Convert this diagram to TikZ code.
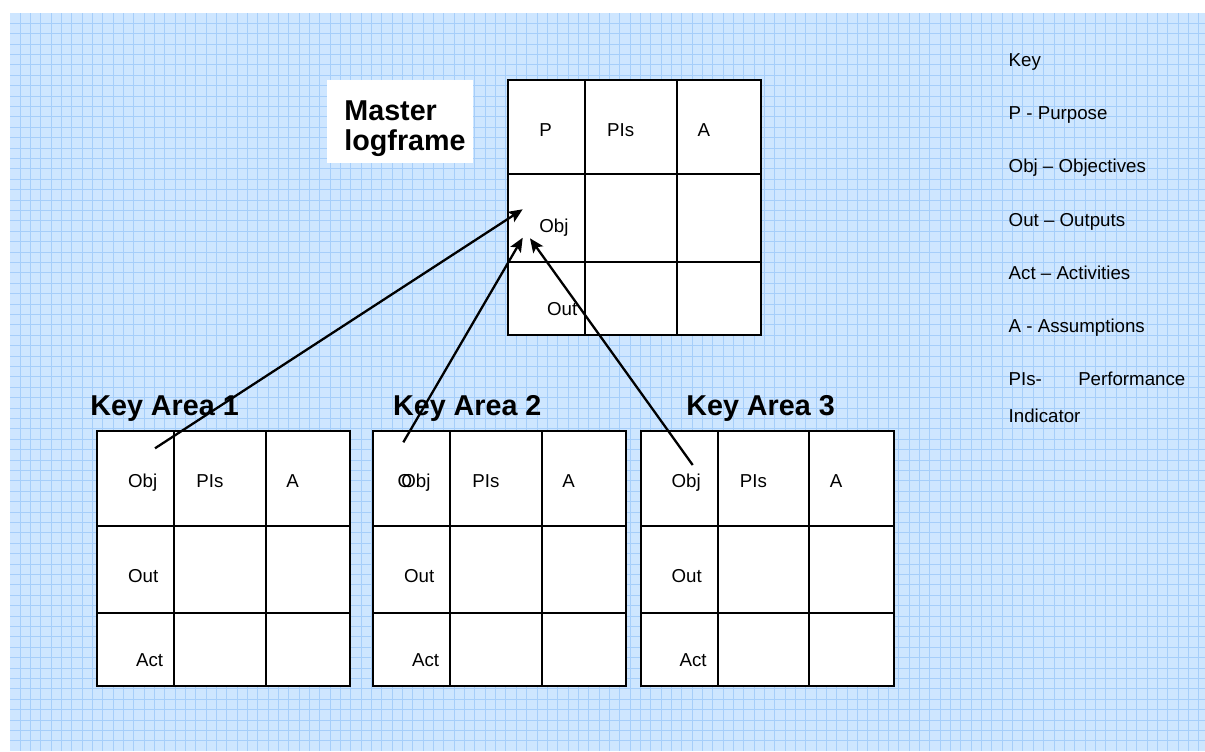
\documentclass[tikz,border=0pt]{standalone}
\usepackage{fontspec}
\setmainfont{Liberation Sans}
\usetikzlibrary{arrows.meta}
\definecolor{paperblue}{RGB}{206,230,255}
\definecolor{paperline}{RGB}{166,206,250}

\begin{document}
\begin{tikzpicture}[x=0.5pt,y=-0.5pt,
    cell/.style={font=\fontsize{9.35}{11}\selectfont,inner sep=0pt,anchor=base west},
    areatitle/.style={font=\bfseries\fontsize{14.35}{16}\selectfont,inner sep=0pt,anchor=base west},
    frameline/.style={line width=0.9pt,black},
    link/.style={line width=1.15pt,black,-{Stealth[length=7pt,width=6pt,inset=1.5pt]}}]
    \useasboundingbox (0,0) rectangle (1205,751);

    % squared paper
    \fill[paperblue] (10,13) rectangle (1205,751);
    \foreach \i in {0,...,114}
      \draw[paperline,line width=0.5pt] ({20+10.34*\i},13) -- ({20+10.34*\i},751);
    \foreach \j in {0,...,69}
      \draw[paperline,line width=0.5pt] (10,{23.3+10.4*\j}) -- (1205,{23.3+10.4*\j});

    % master logframe
    \fill[white] (327.3,80) rectangle (472.7,163);
    \node[areatitle] (mastertitle) at (344,120) {Master};
    \node[areatitle] (mastertitleb) at (344,150.7) {logframe};
    \draw[frameline,fill=white] (508.3,80) rectangle (761,335);
    \draw[frameline] (585,80) -- (585,335) (676.7,80) -- (676.7,335)
                     (508.3,174) -- (761,174) (508.3,262) -- (761,262);
    \node[cell] (mP) at (539,136) {P};
    \node[cell] (mPIs) at (606.7,136) {PIs};
    \node[cell] (mA) at (697.3,136) {A};
    \node[cell] (mObj) at (539,232.3) {Obj};
    \node[cell] (mOut) at (546.7,315.7) {Out};

    % key areas
    \foreach \dx/\n in {0/1,276/2,543.5/3} {
      \draw[frameline,fill=white] (97.3+\dx,431.3) rectangle (350.3+\dx,686);
      \draw[frameline] (174.3+\dx,431.3) -- (174.3+\dx,686) (265.7+\dx,431.3) -- (265.7+\dx,686)
                       (97.3+\dx,525.7) -- (350.3+\dx,525.7) (97.3+\dx,613.3) -- (350.3+\dx,613.3);
      \node[cell] (pis\n) at (196+\dx,487.7) {PIs};
      \node[cell] (a\n) at (286+\dx,487.7) {A};
      \node[cell] (out\n) at (127.7+\dx,582.7) {Out};
      \node[cell] (act\n) at (135.7+\dx,666.7) {Act};
    }
    \node[cell] (obj1) at (127.7,487.7) {Obj};
    \node[cell] (obj2x) at (397.3,487.7) {O};
    \node[cell] (obj2) at (401,487.7) {Obj};
    \node[cell] (obj3) at (671.2,487.7) {Obj};
    \node[areatitle] (title1) at (90,415) {Key Area 1};
    \node[areatitle] (title2) at (392.7,415) {Key Area 2};
    \node[areatitle] (title3) at (686,415) {Key Area 3};

    % key
    \node[cell] (key) at (1008.3,66) {Key};
    \node[cell] (keyP) at (1008.3,119.3) {P - Purpose};
    \node[cell] (keyObj) at (1008.3,172.7) {Obj – Objectives};
    \node[cell] (keyOut) at (1008.3,226) {Out – Outputs};
    \node[cell] (keyAct) at (1008.3,279) {Act – Activities};
    \node[cell] (keyA) at (1008.3,332.7) {A - Assumptions};
    \node[cell] (keyPIs) at (1008.3,385.7) {PIs-};
    \node[cell,anchor=base east] (keyPerf) at (1185.7,385.7) {Performance};
    \node[cell] (keyInd) at (1008.3,422.7) {Indicator};

    % links up to the master objective
    \coordinate (from1) at (155,448.3);
    \coordinate (from2) at (403.3,442.3);
    \coordinate (from3) at (692.7,465);
    \coordinate (to1) at (522.7,209.3);
    \coordinate (to2) at (522.7,237.7);
    \coordinate (to3) at (530,238.3);
    \draw[link] (from1) -- (to1);
    \draw[link] (from2) -- (to2);
    \draw[link] (from3) -- (to3);
\end{tikzpicture}
\end{document}
